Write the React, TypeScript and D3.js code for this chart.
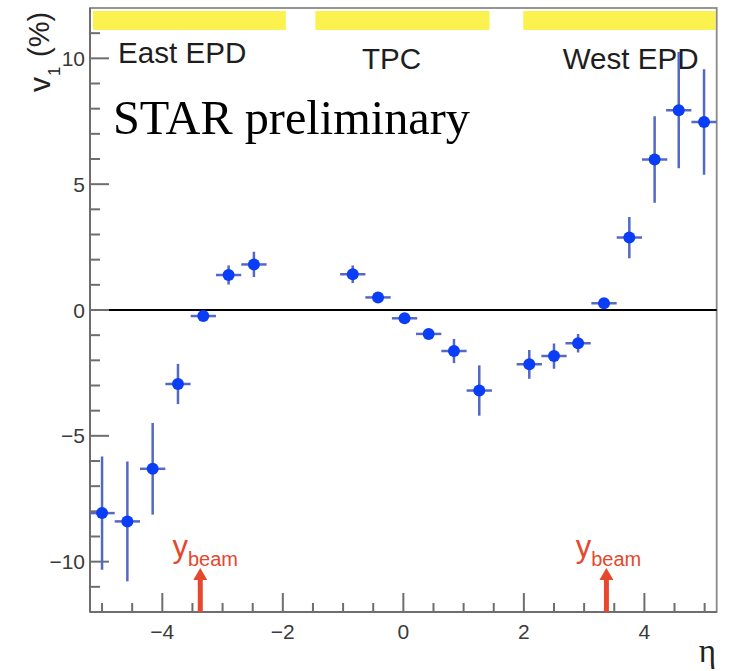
import React from "react";
import * as d3 from "d3";

const eastEta = [-5.0, -4.58, -4.16, -3.74, -3.32, -2.9, -2.48];
const eastV1 = [-8.07, -8.4, -6.31, -2.94, -0.24, 1.39, 1.81];
const eastErr = [2.25, 2.38, 1.82, 0.8, 0.1, 0.38, 0.5];

const tpcEta = [-0.84, -0.42, 0.02, 0.42, 0.84, 1.26];
const tpcV1 = [1.42, 0.5, -0.33, -0.95, -1.63, -3.2];
const tpcErr = [0.35, 0.15, 0.15, 0.2, 0.48, 1.0];

const westEta = [2.09, 2.5, 2.9, 3.33, 3.75, 4.17, 4.57, 4.99];
const westV1 = [-2.16, -1.83, -1.32, 0.27, 2.88, 5.98, 7.94, 7.47];
const westErr = [0.57, 0.5, 0.37, 0.1, 0.82, 1.72, 2.31, 2.1];

const binHalfWidth = 0.21;

const detectorNames = ["East EPD", "TPC", "West EPD"];
const detectorFrom = [-5.15, -1.46, 1.99];
const detectorTo = [-1.95, 1.43, 5.18];

const xMajorTicks = [-4, -2, 0, 2, 4];
const yMajorTicks = [-10, -5, 0, 5, 10];
const yBeam = [-3.37, 3.37];

const W = 732;
const H = 671;
const L = 90;
const R = 716.7;
const T = 8;
const B = 612;

export default function App() {
  const x = d3.scaleLinear().domain([-5.2, 5.2]).range([L, R]);
  const y = d3.scaleLinear().domain([-12, 12]).range([B, T]);

  const pts = [
    ...eastEta.map((e, i) => ({ e, v: eastV1[i], s: eastErr[i] })),
    ...tpcEta.map((e, i) => ({ e, v: tpcV1[i], s: tpcErr[i] })),
    ...westEta.map((e, i) => ({ e, v: westV1[i], s: westErr[i] })),
  ];

  const xMinor = d3.range(-5, 5.01, 0.5).filter((t) => !xMajorTicks.includes(t));
  const yMinor = d3.range(-11, 11.01, 1).filter((t) => !yMajorTicks.includes(t));

  const axisCol = "#6e6e6e";
  const labelCol = "#3a3a3a";
  const sans = "'Liberation Sans', Arial, Helvetica, sans-serif";
  const red = "#e5482d";
  const errCol = "#5468c4";
  const dotCol = "#0a3df6";

  const fmt = (t: number) => (t < 0 ? "\u2212" + Math.abs(t) : String(t));

  return (
    <svg
      width={W}
      height={H}
      style={{ position: "absolute", left: 0, top: 0, background: "#fff" }}
    >
      <defs>
        <clipPath id="plotclip">
          <rect x={L} y={T} width={R - L} height={B - T} />
        </clipPath>
      </defs>
      <rect x={0} y={0} width={W} height={H} fill="#fff" />

      {/* detector acceptance bars */}
      {detectorNames.map((n, i) => (
        <rect
          key={n}
          x={x(detectorFrom[i])}
          y={11}
          width={x(detectorTo[i]) - x(detectorFrom[i])}
          height={19}
          fill="#fbf24f"
        />
      ))}

      {/* frame */}
      <rect
        x={L}
        y={T}
        width={R - L}
        height={B - T}
        fill="none"
        stroke="#8a8a8a"
        strokeWidth={1.8}
      />

      {/* zero line */}
      <line x1={L} x2={R} y1={y(0)} y2={y(0)} stroke="#000" strokeWidth={2} />

      {/* y ticks */}
      {yMajorTicks.map((t) => (
        <g key={"ym" + t}>
          <line x1={L} x2={L + 19} y1={y(t)} y2={y(t)} stroke={axisCol} strokeWidth={2} />
          <text
            x={85}
            y={y(t) + 7.5}
            textAnchor="end"
            fontFamily={sans}
            fontSize={21}
            fill={labelCol}
          >
            {fmt(t)}
          </text>
        </g>
      ))}
      {yMinor.map((t) => (
        <line key={"yn" + t} x1={L} x2={L + 10} y1={y(t)} y2={y(t)} stroke={axisCol} strokeWidth={2} />
      ))}

      {/* x ticks */}
      {xMajorTicks.map((t) => (
        <g key={"xm" + t}>
          <line x1={x(t)} x2={x(t)} y1={B} y2={B - 19} stroke={axisCol} strokeWidth={2} />
          <text
            x={x(t)}
            y={639}
            textAnchor="middle"
            fontFamily={sans}
            fontSize={21}
            fill={labelCol}
          >
            {fmt(t)}
          </text>
        </g>
      ))}
      {xMinor.map((t) => (
        <line key={"xn" + t} x1={x(t)} x2={x(t)} y1={B} y2={B - 9} stroke={axisCol} strokeWidth={2} />
      ))}
      <line x1={L} x2={R} y1={B} y2={B} stroke={axisCol} strokeWidth={2} />
      <line x1={L} x2={L} y1={T} y2={B} stroke={axisCol} strokeWidth={2} />

      {/* axis titles */}
      <text x={716} y={662} textAnchor="end" fontFamily="'Liberation Serif', 'DejaVu Serif', serif" fontSize={33} fill="#222">
        η
      </text>
      <text transform="translate(50,92) rotate(-90)" fontFamily={sans} fontSize={30} fill="#222">
        v
      </text>
      <text transform="translate(60,76) rotate(-90)" fontFamily={sans} fontSize={17} fill="#222">
        1
      </text>
      <text transform="translate(49,57) rotate(-90)" fontFamily={sans} fontSize={29} fill="#222">
        (%)
      </text>

      {/* detector labels */}
      <text x={118} y={63} fontFamily={sans} fontSize={29.6} fill="#1e1e1e">
        {detectorNames[0]}
      </text>
      <text x={362} y={69} fontFamily={sans} fontSize={29.6} fill="#1e1e1e">
        {detectorNames[1]}
      </text>
      <text x={562.7} y={69} fontFamily={sans} fontSize={29.6} fill="#1e1e1e">
        {detectorNames[2]}
      </text>

      <text
        x={113}
        y={133.5}
        fontFamily="'Liberation Serif', 'DejaVu Serif', serif"
        fontSize={49}
        fill="#000"
        textLength={357}
        lengthAdjust="spacingAndGlyphs"
      >
        STAR preliminary
      </text>

      {/* y_beam arrows */}
      {yBeam.map((b, i) => (
        <g key={"yb" + i}>
          <line x1={x(b)} x2={x(b)} y1={B} y2={579} stroke={red} strokeWidth={5} />
          <path
            d={`M${x(b) - 7},${580} L${x(b) + 7},${580} L${x(b)},${568} Z`}
            fill={red}
          />
          <text x={x(b) + (i === 0 ? 5 : 2)} y={557} textAnchor="middle" fontFamily={sans} fill={red}>
            <tspan fontSize={31}>y</tspan>
            <tspan fontSize={20} dy={9}>beam</tspan>
          </text>
        </g>
      ))}

      {/* data */}
      <g clipPath="url(#plotclip)">
        {pts.map((p, i) => (
          <g key={"p" + i}>
            <line
              x1={x(p.e - binHalfWidth)}
              x2={x(p.e + binHalfWidth)}
              y1={y(p.v)}
              y2={y(p.v)}
              stroke={errCol}
              strokeWidth={2.5}
            />
            <line
              x1={x(p.e)}
              x2={x(p.e)}
              y1={y(p.v + p.s)}
              y2={y(p.v - p.s)}
              stroke={errCol}
              strokeWidth={2.5}
            />
            <circle cx={x(p.e)} cy={y(p.v)} r={6} fill={dotCol} />
          </g>
        ))}
      </g>
    </svg>
  );
}
